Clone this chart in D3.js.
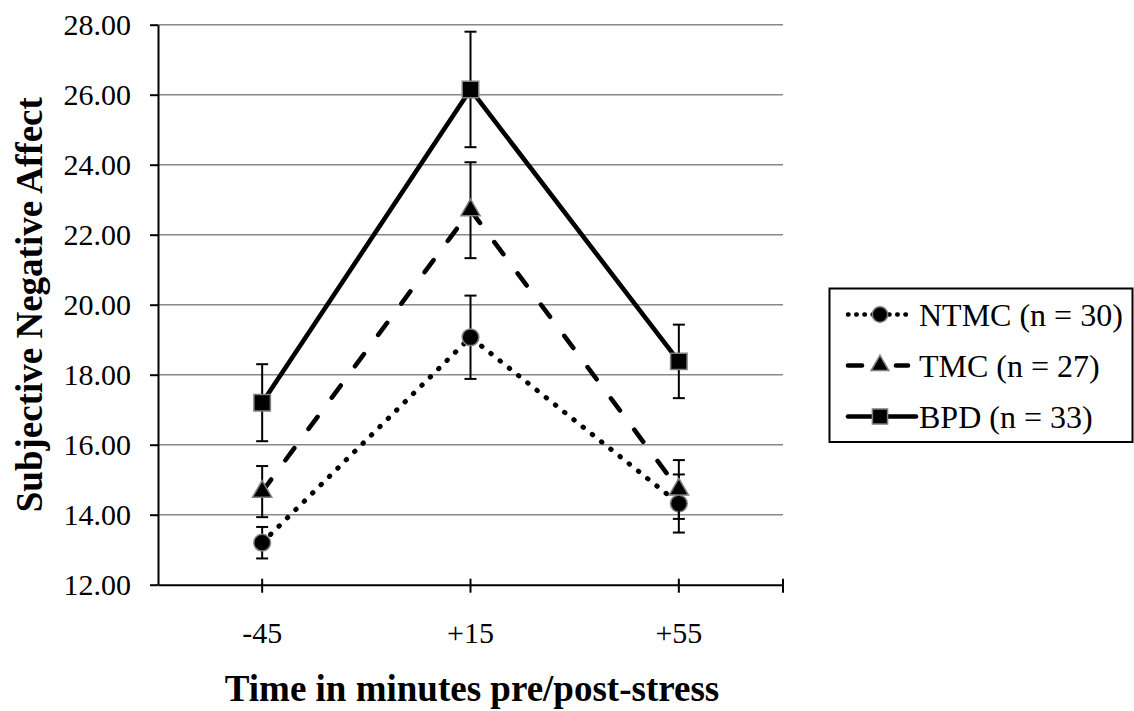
<!DOCTYPE html>
<html>
<head>
<meta charset="utf-8">
<script src="https://cdn.jsdelivr.net/npm/d3@7"></script>
<style>
  body { margin: 0; background: #fff; }
  text { font-family: "Liberation Serif", "Times New Roman", serif; fill: #000; }
</style>
</head>
<body>
<div id="chart"></div>
<script>
// chart values
const times = ["-45", "+15", "+55"];
const groups = ["NTMC (n = 30)", "TMC (n = 27)", "BPD (n = 33)"];
const ntmcMean = [13.2, 19.07, 14.32];
const ntmcSE = [0.45, 1.19, 0.83];
const tmcMean = [14.66, 22.7, 14.72];
const tmcSE = [0.73, 1.37, 0.84];
const bpdMean = [17.2, 26.15, 18.38];
const bpdSE = [1.1, 1.65, 1.05];
const yTicks = [12, 14, 16, 18, 20, 22, 24, 26, 28];

const width = 1134, height = 711;
const plotLeft = 158, plotRight = 783, plotTop = 24.7, plotBottom = 584.7;

// how each series is drawn
const looks = [
  { dash: "0.5,11.3", symbol: d3.symbolCircle, size: 220 },
  { dash: "15,24", symbol: d3.symbolTriangle, size: 160 },
  { dash: null, symbol: d3.symbolSquare, size: 270 }
];

const series = [
  { name: groups[0], mean: ntmcMean, se: ntmcSE },
  { name: groups[1], mean: tmcMean, se: tmcSE },
  { name: groups[2], mean: bpdMean, se: bpdSE }
];

const svg = d3.select("#chart").append("svg")
  .attr("width", width)
  .attr("height", height);

const x = d3.scaleBand().domain(times).range([plotLeft, plotRight]);
const cx = t => x(t) + x.bandwidth() / 2;
const y = d3.scaleLinear().domain([12, 28]).range([plotBottom, plotTop]);

// gridlines
svg.append("g")
  .selectAll("line")
  .data(yTicks.filter(d => d > 12))
  .enter()
  .append("line")
  .attr("x1", plotLeft)
  .attr("x2", plotRight)
  .attr("y1", d => y(d))
  .attr("y2", d => y(d))
  .attr("stroke", "#888")
  .attr("stroke-width", 1.6);

// y axis
let yAxis = svg.append("g")
  .attr("transform", "translate(" + plotLeft + ",0)")
  .call(d3.axisLeft(y).tickValues(yTicks).tickSize(8).tickSizeOuter(0)
    .tickFormat(d3.format(".2f")));
yAxis.select(".domain").attr("stroke", "#000").attr("stroke-width", 2);
yAxis.selectAll(".tick line").attr("stroke", "#000").attr("stroke-width", 2);
yAxis.selectAll(".tick text")
  .attr("x", -27)
  .attr("dy", "0.34em")
  .style("font-size", "30px")
  .style("font-family", "'Liberation Serif', 'Times New Roman', serif")
  .attr("fill", "#000");

// x axis
let xAxis = svg.append("g")
  .attr("transform", "translate(0," + plotBottom + ")")
  .call(d3.axisBottom(x).tickSize(8).tickSizeOuter(0));
xAxis.select(".domain").attr("stroke", "#000").attr("stroke-width", 2);
xAxis.selectAll(".tick line").attr("y1", -6).attr("y2", 8)
  .attr("stroke", "#000").attr("stroke-width", 2);
xAxis.selectAll(".tick text")
  .attr("y", 58)
  .attr("dy", 0)
  .style("font-size", "30px")
  .style("font-family", "'Liberation Serif', 'Times New Roman', serif")
  .attr("fill", "#000");
xAxis.append("line")
  .attr("x1", plotRight).attr("x2", plotRight)
  .attr("y1", -6).attr("y2", 8)
  .attr("stroke", "#000").attr("stroke-width", 2);

// axis titles
svg.append("text")
  .attr("x", 472)
  .attr("y", 701)
  .attr("text-anchor", "middle")
  .style("font-size", "37px")
  .style("font-weight", "bold")
  .text("Time in minutes pre/post-stress");

svg.append("text")
  .attr("transform", "translate(42," + (plotTop + plotBottom) / 2 + ") rotate(-90)")
  .attr("text-anchor", "middle")
  .style("font-size", "37px")
  .style("font-weight", "bold")
  .text("Subjective Negative Affect");

// series
let line = d3.line().x(d => cx(d.t)).y(d => y(d.v));

series.forEach((s, i) => {
  let look = looks[i];
  let pts = times.map((t, j) => ({ t: t, v: s.mean[j], e: s.se[j] }));
  let g = svg.append("g");

  g.append("path")
    .datum(pts)
    .attr("d", line)
    .attr("fill", "none")
    .attr("stroke", "#000")
    .attr("stroke-width", i === 0 ? 5 : 4.6)
    .attr("stroke-linecap", "round")
    .attr("stroke-linejoin", "round")
    .attr("stroke-dasharray", look.dash);

  let bars = g.selectAll(".err").data(pts).enter().append("g");
  bars.append("line")
    .attr("x1", d => cx(d.t)).attr("x2", d => cx(d.t))
    .attr("y1", d => y(d.v + d.e)).attr("y2", d => y(d.v - d.e))
    .attr("stroke", "#000").attr("stroke-width", 2);
  [1, -1].forEach(sign => {
    bars.append("line")
      .attr("x1", d => cx(d.t) - 6).attr("x2", d => cx(d.t) + 6)
      .attr("y1", d => y(d.v + sign * d.e)).attr("y2", d => y(d.v + sign * d.e))
      .attr("stroke", "#000").attr("stroke-width", 2);
  });

  g.selectAll(".mark").data(pts).enter().append("path")
    .attr("transform", d => "translate(" + cx(d.t) + "," + y(d.v) + ")")
    .attr("d", d3.symbol().type(look.symbol).size(look.size))
    .attr("fill", "#000")
    .attr("stroke", "#7f7f7f")
    .attr("stroke-width", 1.5);
});

// legend
let legend = svg.append("g");
legend.append("rect")
  .attr("x", 829.5).attr("y", 288.5)
  .attr("width", 303).attr("height", 153.5)
  .attr("fill", "#fff")
  .attr("stroke", "#000")
  .attr("stroke-width", 2);

series.forEach((s, i) => {
  let look = looks[i];
  let ly = 314.5 + i * 51;
  legend.append("line")
    .attr("x1", 848).attr("x2", i === 2 ? 916 : 908)
    .attr("y1", ly).attr("y2", ly)
    .attr("stroke", "#000")
    .attr("stroke-width", i === 0 ? 4.5 : 4.6)
    .attr("stroke-linecap", "round")
    .attr("stroke-dasharray", i === 0 ? "0.5,7.7" : i === 1 ? "14,34" : null);
  legend.append("path")
    .attr("transform", "translate(880," + ly + ")")
    .attr("d", d3.symbol().type(look.symbol).size(look.size * 0.85))
    .attr("fill", "#000")
    .attr("stroke", "#7f7f7f")
    .attr("stroke-width", 1.5);
  legend.append("text")
    .attr("x", 919)
    .attr("y", ly)
    .attr("dy", "0.35em")
    .style("font-size", "32px")
    .text(s.name);
});
</script>
</body>
</html>
